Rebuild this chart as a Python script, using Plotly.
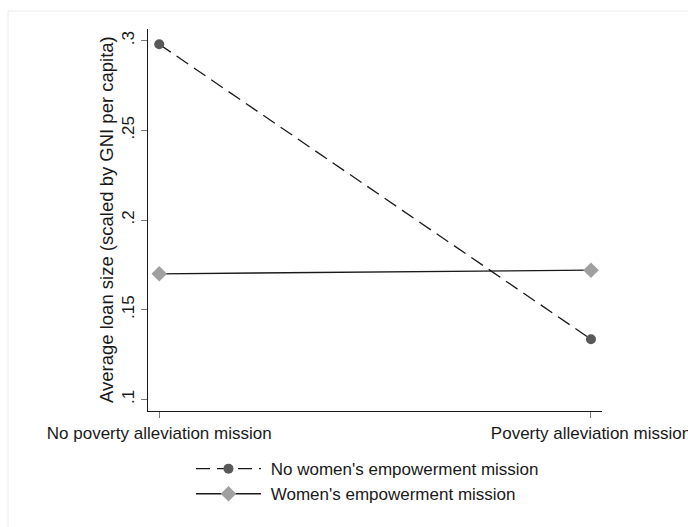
import plotly.graph_objects as go

categories = ["No poverty alleviation mission", "Poverty alleviation mission"]
x_pos = [0, 1]
no_women = [0.298, 0.1335]
women = [0.170, 0.172]
y_ticks = [0.1, 0.15, 0.2, 0.25, 0.3]
y_tick_labels = [".1", ".15", ".2", ".25", ".3"]
series_names = ["No women's empowerment mission", "Women's empowerment mission"]
y_title = "Average loan size (scaled by GNI per capita)"

fig = go.Figure()
fig.add_trace(go.Scatter(
    x=x_pos, y=no_women, mode="lines+markers",
    name="\u00a0" + series_names[0],
    line=dict(color="#1a1a1a", width=1.3, dash="14px,7px"),
    marker=dict(symbol="circle", size=10, color="#595959"),
))
fig.add_trace(go.Scatter(
    x=x_pos, y=women, mode="lines+markers",
    name="\u00a0" + series_names[1],
    line=dict(color="#1a1a1a", width=1.3),
    marker=dict(symbol="diamond", size=12, color="#a0a0a0"),
))

font_family = "Liberation Sans, Arial, sans-serif"
fig.update_layout(
    width=688, height=527,
    margin=dict(l=148, r=86, t=29, b=116),
    paper_bgcolor="white", plot_bgcolor="white",
    font=dict(family=font_family, size=17, color="#1a1a1a"),
    xaxis=dict(
        range=[-0.026, 1.0255], tickvals=x_pos, ticktext=categories,
        showgrid=False, zeroline=False, showline=True, linecolor="#1a1a1a", linewidth=1.3,
        ticks="outside", ticklen=6, tickcolor="#7a7a7a", tickwidth=1.3,
        tickfont=dict(size=17), fixedrange=True, ticklabeloverflow="allow",
        automargin=False,
    ),
    yaxis=dict(
        range=[0.0935, 0.3065], tickvals=y_ticks, ticktext=y_tick_labels,
        tickangle=-90, showgrid=False, zeroline=False, showline=True,
        linecolor="#1a1a1a", linewidth=1.3,
        ticks="outside", ticklen=6, tickcolor="#7a7a7a", tickwidth=1.3,
        tickfont=dict(size=17), ticklabeloverflow="allow", automargin=False,
    ),
    annotations=[dict(
        text=y_title, xref="paper", yref="paper",
        x=(106 - 148) / 454, y=0.5, xanchor="center", yanchor="middle",
        textangle=-90, showarrow=False, font=dict(size=18.5),
    )],
    legend=dict(
        orientation="v", x=0.0947, y=-0.105, xanchor="left", yanchor="top",
        itemwidth=65, font=dict(size=17), bgcolor="rgba(0,0,0,0)",
        tracegroupgap=4,
    ),
    showlegend=True,
    shapes=[dict(
        type="rect", xref="paper", yref="paper",
        x0=(8 - 148) / 454, x1=(700 - 148) / 454,
        y0=-0.34, y1=(411 - 11) / 382,
        line=dict(color="#ececec", width=1), layer="below",
    )],
)

fig.write_html("out.html", config={"displayModeBar": False},
               post_script="document.body.style.margin='0';document.body.style.padding='0';")
